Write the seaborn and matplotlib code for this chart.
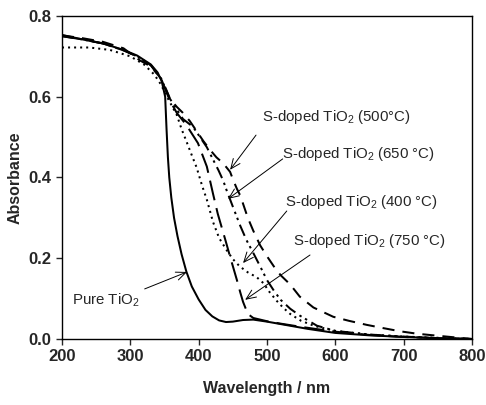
import numpy as np
import pandas as pd
import matplotlib
matplotlib.use("Agg")
import matplotlib.pyplot as plt
import seaborn as sns

sns.set_style("ticks")
plt.rcParams['font.family'] = ['Liberation Sans', 'DejaVu Sans']
plt.rcParams['mathtext.fontset'] = 'custom'
plt.rcParams['mathtext.rm'] = 'Liberation Sans'

# ── Data ──────────────────────────────────────────────────────────────────────
wl_pure = [200, 230, 260, 290, 310, 330, 340, 346, 351, 353, 355, 357, 360, 364,
           369, 375, 382, 390, 400, 410, 420, 430, 440, 450, 465, 480, 500, 530,
           560, 600, 650, 700, 750, 800]
abs_pure = [0.753, 0.742, 0.732, 0.716, 0.702, 0.680, 0.660, 0.638, 0.600, 0.52,
            0.45, 0.40, 0.35, 0.30, 0.255, 0.21, 0.167, 0.13, 0.098, 0.072, 0.056,
            0.046, 0.042, 0.043, 0.047, 0.048, 0.043, 0.034, 0.025, 0.015, 0.009,
            0.005, 0.002, 0.0]

wl_400 = [200, 240, 270, 300, 320, 335, 345, 352, 360, 368, 375, 382, 390, 397,
          405, 412, 421, 430, 441, 450, 460, 472, 485, 495, 503, 514, 524, 534,
          550, 570, 600, 650, 700, 750, 800]
abs_400 = [0.722, 0.722, 0.716, 0.700, 0.680, 0.655, 0.630, 0.605, 0.580, 0.555,
           0.520, 0.490, 0.455, 0.425, 0.380, 0.345, 0.290, 0.250, 0.220, 0.198,
           0.180, 0.165, 0.153, 0.138, 0.118, 0.095, 0.077, 0.062, 0.045, 0.032,
           0.020, 0.011, 0.006, 0.003, 0.0]

wl_500 = [200, 230, 260, 290, 314, 330, 345, 352, 358, 368, 377, 387, 397, 407,
          417, 426, 436, 446, 451, 456, 461, 465, 472, 480, 490, 500, 510, 520,
          534, 548, 568, 597, 620, 646, 670, 695, 720, 750, 775, 800]
abs_500 = [0.752, 0.745, 0.736, 0.720, 0.690, 0.675, 0.645, 0.620, 0.595, 0.575,
           0.560, 0.540, 0.515, 0.490, 0.468, 0.450, 0.435, 0.414, 0.392, 0.372,
           0.355, 0.335, 0.300, 0.268, 0.232, 0.205, 0.180, 0.158, 0.135, 0.105,
           0.078, 0.055, 0.045, 0.035, 0.027, 0.019, 0.013, 0.008, 0.004, 0.0]

wl_650 = [200, 230, 260, 290, 310, 330, 345, 352, 358, 377, 392, 402, 412, 420,
          429, 436, 441, 450, 461, 470, 480, 490, 500, 510, 520, 534, 548, 573,
          600, 650, 700, 750, 800]
abs_650 = [0.750, 0.742, 0.732, 0.715, 0.700, 0.678, 0.645, 0.618, 0.595, 0.545,
           0.525, 0.500, 0.475, 0.448, 0.418, 0.392, 0.368, 0.328, 0.280, 0.245,
           0.213, 0.180, 0.146, 0.120, 0.097, 0.075, 0.058, 0.033, 0.020, 0.011,
           0.006, 0.002, 0.0]

wl_750 = [200, 230, 260, 290, 310, 330, 345, 352, 358, 368, 382, 399, 412, 421,
          428, 434, 440, 446, 451, 456, 461, 465, 472, 480, 490, 500, 520, 550,
          600, 650, 700, 750, 800]
abs_750 = [0.750, 0.742, 0.732, 0.715, 0.700, 0.678, 0.645, 0.615, 0.590, 0.560,
           0.530, 0.485, 0.427, 0.360, 0.310, 0.275, 0.240, 0.204, 0.175, 0.146,
           0.115, 0.092, 0.062, 0.052, 0.048, 0.044, 0.038, 0.030, 0.018, 0.010,
           0.005, 0.002, 0.0]

series = [
    (wl_pure, abs_pure, '-'),
    (wl_400, abs_400, (0, (1, 2.0))),
    (wl_500, abs_500, (0, (6, 4))),
    (wl_650, abs_650, (0, (6, 2.5, 1.2, 2, 1.2, 2.5))),
    (wl_750, abs_750, (0, (10, 4))),
]

# label text, text anchor (left, centre), arrow start, arrow tip
labels = [
    ('S-doped TiO$_2$ (500°C)', (493, 0.550), (484, 0.505), (446, 0.419)),
    ('S-doped TiO$_2$ (650 °C)', (522, 0.458), (523, 0.446), (443, 0.347)),
    ('S-doped TiO$_2$ (400 °C)', (526, 0.339), (529, 0.317), (465, 0.188)),
    ('S-doped TiO$_2$ (750 °C)', (538, 0.243), (563, 0.208), (468, 0.097)),
    ('Pure TiO$_2$', (215, 0.097), (321, 0.124), (383, 0.166)),
]

# ── Figure ────────────────────────────────────────────────────────────────────
fig = plt.figure(figsize=(4.86, 4.05), dpi=100)
ax = fig.add_axes([0.1276, 0.163, 0.8434, 0.7975])

for wl, ab, ls in series:
    df = pd.DataFrame({'wl': wl, 'abs': ab})
    sns.lineplot(data=df, x='wl', y='abs', ax=ax, sort=False, estimator=None,
                 color='black', linewidth=1.45, linestyle=ls)

for text, txy, start, tip in labels:
    ax.text(txy[0], txy[1], text, ha='left', va='center', fontsize=10.8)
    ax.annotate('', xy=tip, xytext=start,
                arrowprops=dict(arrowstyle='->,head_length=0.7,head_width=0.3',
                                color='black', lw=0.7, shrinkA=0, shrinkB=0))

ax.set_xlim(200, 800)
ax.set_ylim(0, 0.8)
ax.set_xticks(range(200, 801, 100))
ax.set_yticks([0.0, 0.2, 0.4, 0.6, 0.8])
ax.set_yticklabels(['0.0', '0.2', '0.4', '0.6', '0.8'])
ax.tick_params(direction='out', length=4, width=1, labelsize=12)
for lab in ax.get_xticklabels() + ax.get_yticklabels():
    lab.set_fontweight('bold')
for sp in ax.spines.values():
    sp.set_visible(True)
    sp.set_linewidth(1.0)
    sp.set_color('black')

ax.set_xlabel('Wavelength / nm', fontsize=11.5, fontweight='bold', labelpad=12)
ax.set_ylabel('Absorbance', fontsize=11.5, fontweight='bold', labelpad=4)

plt.savefig('out.png', dpi=100)
